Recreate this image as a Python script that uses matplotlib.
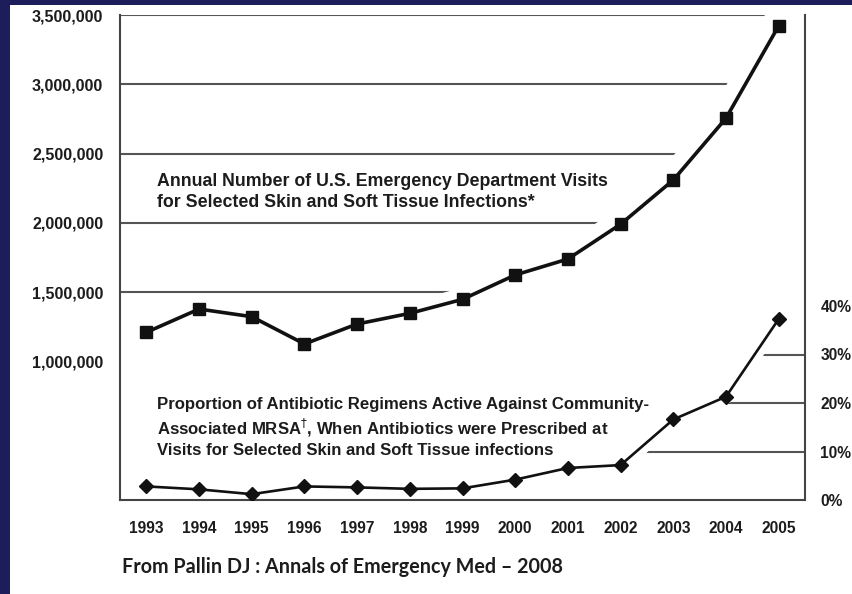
import matplotlib
matplotlib.use("Agg")
import matplotlib.pyplot as plt
import matplotlib.transforms as mtransforms
from matplotlib.patches import Polygon, Rectangle

# Visites annuelles aux urgences (USA) et part des antibiotiques actifs contre le SARM-C
years = [1993, 1994, 1995, 1996, 1997, 1998, 1999, 2000, 2001, 2002, 2003, 2004, 2005]
ed_visits = [1210000, 1378000, 1323000, 1126000, 1270000, 1347000, 1448000,
             1624000, 1739000, 1990000, 2309000, 2755000, 3421000]
mrsa_pct = [2.8, 2.2, 1.2, 2.8, 2.6, 2.3, 2.4, 4.2, 6.6, 7.2, 16.6, 21.3, 37.3]

visit_ticks = [1000000, 1500000, 2000000, 2500000, 3000000, 3500000]
pct_ticks = [0, 10, 20, 30, 40]

visits_title = ["Annual Number of U.S. Emergency Department Visits",
                "for Selected Skin and Soft Tissue Infections*"]
pct_title = ["Proportion of Antibiotic Regimens Active Against Community-",
             "Associated MRSA$^{\\dagger}$, When Antibiotics were Prescribed at",
             "Visits for Selected Skin and Soft Tissue infections"]
source = "From Pallin DJ : Annals of Emergency Med \u2013 2008"

INK = "#1c1c1c"
GRID = "#555555"
NAVY = "#1d1d5b"
FONT = "Liberation Sans"

fig = plt.figure(figsize=(8.52, 5.94), dpi=100)
fig.patch.set_facecolor(NAVY)
fig.add_artist(Rectangle((10 / 852, 0), 1, 1 - 5 / 594, transform=fig.transFigure,
                         facecolor="white", edgecolor="none", zorder=-5))

ax1 = fig.add_axes([120 / 852, 1 - 500 / 594, 685 / 852, 485 / 594])
ax2 = ax1.twinx()
ax1.set_facecolor("white")

ax1.set_xlim(1992.5, 2005.5)
ax1.set_ylim(0, 3500000)
ax2.set_ylim(0, 100)

# grille des visites : seulement au-dessus de la courbe, avec un petit retrait
clip_top = Polygon([(1980, 1e9), (1980, ed_visits[0])] + list(zip(years, ed_visits))
                   + [(years[-1], 1e9)], closed=True,
                   transform=mtransforms.offset_copy(ax1.transData, fig=fig, x=-0.14, y=0.08,
                                                     units="inches"))
grid1 = ax1.hlines(visit_ticks, 1992.5, 2005.5, color=GRID, lw=1.5, zorder=1)
grid1.set_clip_path(clip_top)

# grille des pourcentages : seulement sous la courbe
clip_bottom = Polygon([(1980, -1e3), (1980, mrsa_pct[0])] + list(zip(years, mrsa_pct))
                      + [(2030, mrsa_pct[-1]), (2030, -1e3)], closed=True,
                      transform=mtransforms.offset_copy(ax2.transData, fig=fig, x=0.06, y=-0.05,
                                                        units="inches"))
grid2 = ax2.hlines(pct_ticks[1:], 1992.5, 2005.5, color=GRID, lw=1.5, zorder=1)
grid2.set_clip_path(clip_bottom)

ax1.plot(years, ed_visits, color="#111111", lw=2.6, marker="s", markersize=9, zorder=3)
ax2.plot(years, mrsa_pct, color="#111111", lw=1.9, marker="D", markersize=7, zorder=3)

ax1.set_xticks(years)
ax1.set_xticklabels([str(y) for y in years])
ax1.set_yticks(visit_ticks)
ax1.set_yticklabels([f"{v:,}" for v in visit_ticks])
ax2.set_yticks(pct_ticks)
ax2.set_yticklabels([f"{p}%" for p in pct_ticks])

for lab in ax1.get_yticklabels():
    lab.set_fontsize(11.6)
for lab in ax1.get_xticklabels() + ax2.get_yticklabels():
    lab.set_fontsize(11.2)
for lab in ax1.get_xticklabels() + ax1.get_yticklabels() + ax2.get_yticklabels():
    lab.set_fontfamily(FONT)
    lab.set_fontweight("bold")
    lab.set_color(INK)

ax1.tick_params(axis="x", length=0, pad=15)
ax1.tick_params(axis="y", length=0, pad=12)
ax2.tick_params(axis="y", length=0, pad=11)

for name, sp in ax1.spines.items():
    sp.set_visible(name in ("left", "bottom"))
    sp.set_color("#444444")
    sp.set_linewidth(1.5)
for name, sp in ax2.spines.items():
    sp.set_visible(name == "right")
    sp.set_color("#444444")
    sp.set_linewidth(1.5)

for i, line in enumerate(visits_title):
    ax1.text(0.054, 0.6577 - i * 0.0453, line, transform=ax1.transAxes, va="center",
             ha="left", fontsize=12.8, fontweight="bold", family=FONT, color=INK)
for i, line in enumerate(pct_title):
    ax1.text(0.054, 0.1959 - i * 0.0474, line, transform=ax1.transAxes, va="center",
             ha="left", fontsize=12.1, fontweight="bold", family=FONT, color=INK)

fig.text(122 / 852, 1 - 567 / 594, source, va="center", ha="left", fontsize=14.2,
         fontweight="bold", family="Lato", color=INK)

fig.savefig("out.png", dpi=100, facecolor=fig.get_facecolor())
